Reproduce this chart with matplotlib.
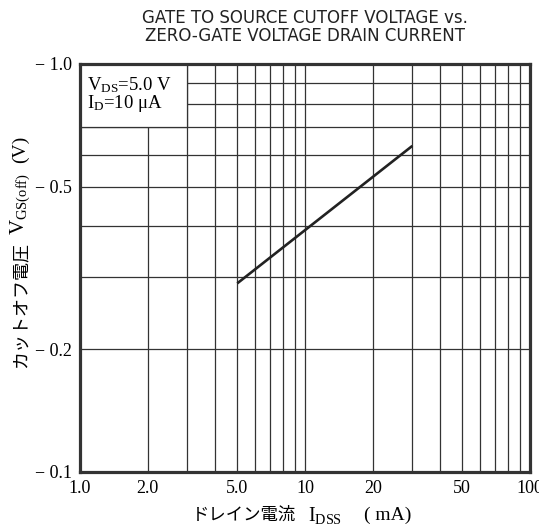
import numpy as np
import matplotlib
matplotlib.use('Agg')
import matplotlib.pyplot as plt
from matplotlib.patches import Rectangle
from matplotlib.ticker import FixedLocator, NullFormatter

# フォント設定
plt.rcParams['font.family'] = ['Liberation Serif', 'Noto Sans CJK JP']
plt.rcParams['mathtext.fontset'] = 'custom'
plt.rcParams['mathtext.rm'] = 'Liberation Serif'

# データ
idss = [5.0, 30.0]          # mA
vgs_off = [-0.29, -0.63]    # V

x_ticks = [1, 2, 5, 10, 20, 50, 100]
x_tick_labels = ['1.0', '2.0', '5.0', '10', '20', '50', '100']
y_ticks = [1.0, 0.5, 0.2, 0.1]
y_tick_labels = ['\u2212 1.0', '\u2212 0.5', '\u2212 0.2', '\u2212 0.1']
x_grid = [2, 3, 4, 5, 6, 7, 8, 9, 10, 20, 30, 40, 50, 60, 70, 80, 90]
y_grid = [0.2, 0.3, 0.4, 0.5, 0.6, 0.7, 0.8, 0.9]

W, H = 539, 527
fig = plt.figure(figsize=(W / 100, H / 100), dpi=100)
ax = fig.add_axes([80 / W, 1 - 472 / H, 450 / W, 408 / H])

ax.set_xscale('log')
ax.set_yscale('log')
ax.set_xlim(1, 100)
ax.set_ylim(0.1, 1.0)

# グリッド
grid_kw = dict(color='#333333', linewidth=0.9, zorder=1)
for gx in x_grid:
    ax.axvline(gx, **grid_kw)
for gy in y_grid:
    ax.axhline(gy, **grid_kw)

# 条件表示の白枠
ax.add_patch(Rectangle((1.0, 0.7), 2.0, 0.3, facecolor='white',
                       edgecolor='#333333', linewidth=0.9, zorder=2))
ax.text(87 / W, 1 - 85 / H, r'$\mathregular{V_{DS}}$=5.0 V', transform=fig.transFigure,
        fontsize=13.5, va='center', ha='left', zorder=3)
ax.text(87 / W, 1 - 104 / H, r'$\mathregular{I_{D}}$=10 $\mathregular{\mu}$A', transform=fig.transFigure,
        fontsize=13.5, va='center', ha='left', zorder=3)

# 曲線
ax.plot(idss, [-v for v in vgs_off], color='#222222', linewidth=1.9, zorder=4,
        solid_capstyle='butt')

# 目盛
ax.xaxis.set_major_locator(FixedLocator(x_ticks))
ax.xaxis.set_minor_formatter(NullFormatter())
ax.set_xticklabels(x_tick_labels)
ax.yaxis.set_major_locator(FixedLocator(y_ticks))
ax.yaxis.set_minor_formatter(NullFormatter())
ax.set_yticklabels(y_tick_labels)
ax.tick_params(which='both', length=0, labelsize=13, pad=6)

for sp in ax.spines.values():
    sp.set_linewidth(2.3)
    sp.set_color('#333333')
    sp.set_zorder(5)

# タイトル
fig.text(305 / W, 1 - 18 / H, 'GATE TO SOURCE CUTOFF VOLTAGE vs.', ha='center', va='center',
         fontsize=12, family='DejaVu Sans', color='#222222')
fig.text(305 / W, 1 - 36 / H, 'ZERO-GATE VOLTAGE DRAIN CURRENT', ha='center', va='center',
         fontsize=12, family='DejaVu Sans', color='#222222')

# x軸ラベル
fig.text(192 / W, 1 - 515 / H, 'ドレイン電流', ha='left', va='center', fontsize=12.5,
         family='Noto Sans CJK JP')
fig.text(308 / W, 1 - 515 / H, r'$\mathregular{I_{DSS}}$', ha='left', va='center', fontsize=14.5)
fig.text(364 / W, 1 - 515 / H, '( mA)', ha='left', va='center', fontsize=14)

# y軸ラベル
fig.text(20 / W, 1 - 368 / H, 'カットオフ電圧', ha='center', va='bottom', rotation=90,
         fontsize=13, family='Noto Sans CJK JP')
fig.text(20 / W, 1 - 235 / H, r'$\mathregular{V_{GS(off)}}$', ha='center', va='bottom',
         rotation=90, fontsize=15)
fig.text(20 / W, 1 - 163 / H, '(V)', ha='center', va='bottom', rotation=90, fontsize=14)

plt.savefig('out.png', dpi=100)
